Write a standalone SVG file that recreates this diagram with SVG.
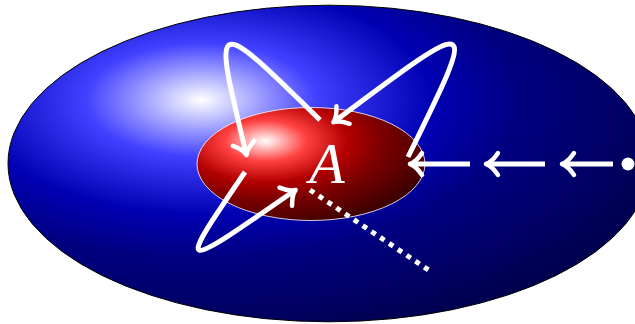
<svg xmlns="http://www.w3.org/2000/svg" width="635" height="324" viewBox="0 0 635 324">
<defs>
<radialGradient id="gBlue" gradientUnits="userSpaceOnUse" cx="201" cy="100" r="642" fx="201" fy="100" gradientTransform="translate(201 100) scale(1 0.4938) translate(-201 -100)">
<stop offset="0" stop-color="#ffffff"/>
<stop offset="0.18" stop-color="#4040ff"/>
<stop offset="0.36" stop-color="#0000b3"/>
<stop offset="0.5" stop-color="#000080"/>
<stop offset="1" stop-color="#000028"/>
</radialGradient>
<radialGradient id="gRed" gradientUnits="userSpaceOnUse" cx="265.4" cy="141" r="228" fx="265.4" fy="141" gradientTransform="translate(265.4 141) scale(1 0.5) translate(-265.4 -141)">
<stop offset="0" stop-color="#ffffff"/>
<stop offset="0.18" stop-color="#ff4040"/>
<stop offset="0.36" stop-color="#b30000"/>
<stop offset="0.5" stop-color="#800000"/>
<stop offset="1" stop-color="#000000"/>
</radialGradient>
<marker id="to" markerUnits="userSpaceOnUse" orient="auto" refX="0" refY="0" markerWidth="40" markerHeight="40" overflow="visible">
<path d="M -10,-11 Q -4,-2 2,0 Q -4,2 -10,11" fill="none" stroke="#fff" stroke-width="4.5" stroke-linecap="round" stroke-linejoin="round"/>
</marker>
</defs>
<style>
.conn{fill:none;stroke:#fff;stroke-width:5;stroke-linecap:butt}
.arr{marker-end:url(#to)}
.dots{stroke-dasharray:5 5.6}
</style>
<g id="outer">
<ellipse cx="329" cy="163.5" rx="321" ry="158.3" fill="url(#gBlue)" stroke="#000" stroke-width="1"/>
</g>
<g id="A">
<ellipse cx="311" cy="164" rx="114" ry="56.5" fill="url(#gRed)" stroke="#fff" stroke-width="0.8"/>
<text x="327" y="183" fill="#fff" font-family="'Liberation Serif', serif" font-style="italic" font-size="58" text-anchor="middle">A</text>
</g>
<g id="start">
<circle cx="628" cy="164" r="6.5" fill="#fff"/>
</g>
<g id="connectors">
<path class="conn arr" d="M 320 120 C 212 14 212 14 246 153"/>
<path class="conn arr" d="M 408 157 C 479 13 479 13 335 121"/>
<path class="conn arr" d="M 245 172 C 176 273 176 273 294 191"/>
<path class="conn arr" d="M 613 164 L 564 164"/>
<path class="conn arr" d="M 545 164 L 488 164"/>
<path class="conn arr" d="M 470 164 L 412 164"/>
<path class="conn dots" d="M 310 190 L 430 271"/>
</g>
</svg>
